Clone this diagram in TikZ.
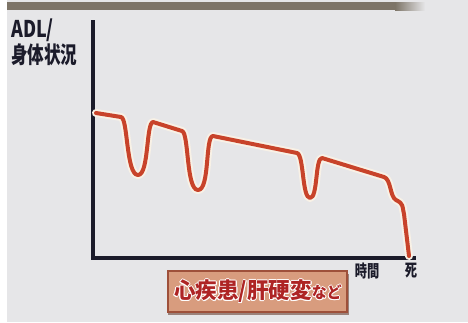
\documentclass[tikz,border=0pt]{standalone}
\usepackage{fontspec}
\usepackage{graphicx}
\newfontfamily\jp{Noto Sans CJK JP}
\definecolor{slidebg}{HTML}{E6E6E8}
\definecolor{axiscol}{HTML}{1B1B2A}
\definecolor{curvecol}{HTML}{C8432A}
\definecolor{halocol}{HTML}{F8F1E6}
\definecolor{boxfill}{HTML}{D89C7E}
\definecolor{boxdraw}{HTML}{9E503A}
\definecolor{boxtext}{HTML}{AE2424}
\definecolor{bandcol}{HTML}{7D7467}
\newcommand{\outl}[2]{% white outlined text
  \leavevmode\rlap{\color{white}\raisebox{0.9pt}{#2}}%
  \rlap{\color{white}\raisebox{-0.9pt}{#2}}%
  \rlap{\color{white}\hspace{0.9pt}#2}%
  \rlap{\color{white}\hspace{-0.9pt}#2}%
  \rlap{\color{white}\hspace{0.7pt}\raisebox{0.7pt}{#2}}%
  \rlap{\color{white}\hspace{-0.7pt}\raisebox{0.7pt}{#2}}%
  \rlap{\color{white}\hspace{0.7pt}\raisebox{-0.7pt}{#2}}%
  \rlap{\color{white}\hspace{-0.7pt}\raisebox{-0.7pt}{#2}}%
  {\color{#1}#2}}
\tikzset{
  axisline/.style={draw=axiscol, line width=3.5pt},
  lbl/.style={inner sep=0pt, text=axiscol, font=\jp\bfseries},
}
\begin{document}
\begin{tikzpicture}[x=1pt,y=-1pt]
\useasboundingbox (0,0) rectangle (468,322);
\fill[white] (0,0) rectangle (468,322);
\fill[slidebg] (7,0) rectangle (468,322);
\fill[bandcol] (7,2) rectangle (395,10);
\shade[left color=bandcol, right color=slidebg] (395,2) rectangle (425,10);
% axes
\coordinate (ytop) at (93,20);
\coordinate (orig) at (93,258);
\coordinate (xend) at (416,258);
\draw[axisline] (ytop) -- (orig) -- (xend);
% labels
\node[lbl, anchor=north west] (adl) at (11,19) {\fontsize{23}{23}\selectfont\scalebox{0.78}[1]{ADL/}};
\node[lbl, anchor=north west] (body) at (11,44) {\fontsize{23}{23}\selectfont\scalebox{0.72}[1]{身体状況}};
\node[lbl] (time) at (367,271) {\fontsize{17}{17}\selectfont\scalebox{0.72}[1]{時間}};
\node[lbl] (death) at (411,271) {\fontsize{17}{17}\selectfont\scalebox{0.72}[1]{死}};
% curve
\def\curvepath{(96,113) -- (121,117)
  .. controls (128,118) and (126,175) .. (138,175)
  .. controls (149,175) and (146,123) .. (153,122)
  -- (182,131)
  .. controls (189,133) and (186,190) .. (198,190)
  .. controls (210,190) and (205,136) .. (213,136)
  -- (297,153)
  .. controls (304,155) and (302,198) .. (310,198)
  .. controls (318,198) and (315,158) .. (322,158)
  -- (384,177)
  .. controls (391,179) and (390,197) .. (396,200)
  .. controls (404,204) and (402,206) .. (404,214)
  -- (409,256)}
\draw[halocol, line width=8pt, line join=round, line cap=round] \curvepath;
\draw[curvecol, line width=4pt, line join=round, line cap=round] \curvepath;
% box
\fill[boxdraw!60!black, opacity=0.55] (168,274) rectangle (349,315);
\node[draw=boxdraw, fill=boxfill, line width=2pt, minimum width=179pt, minimum height=41pt, inner sep=0pt, anchor=north west] (box) at (167,270) {};
\node[inner sep=0pt, font=\jp\bfseries] (boxtxt) at (258,291.5) {\fontsize{22}{22}\selectfont\scalebox{0.98}[1]{\outl{boxtext}{心疾患/肝硬変}}\fontsize{16}{16}\selectfont\scalebox{0.93}[1]{\outl{boxtext}{など}}};
\end{tikzpicture}
\end{document}
